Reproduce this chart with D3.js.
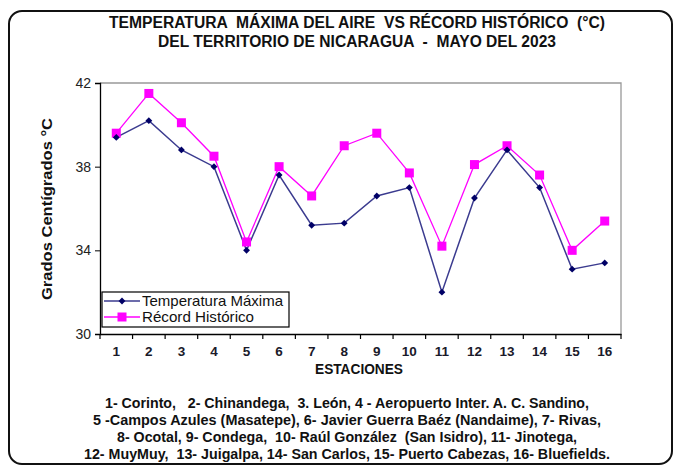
<!DOCTYPE html>
<html>
<head>
<meta charset="utf-8">
<script src="https://cdn.jsdelivr.net/npm/d3@7"></script>
<style>
  body { margin: 0; background: #fff; }
  svg { display: block; }
  .narrow { font-family: "Liberation Sans", Arial, sans-serif; font-weight: bold; }
  .arial { font-family: "Liberation Sans", Arial, sans-serif; }
</style>
</head>
<body>
<div id="chart"></div>
<script>
const stations = ["1", "2", "3", "4", "5", "6", "7", "8", "9", "10", "11", "12", "13", "14", "15", "16"];
const tempMax = [39.4, 40.2, 38.8, 38.0, 34.0, 37.6, 35.2, 35.3, 36.6, 37.0, 32.0, 36.5, 38.8, 37.0, 33.1, 33.4];
const record = [39.6, 41.5, 40.1, 38.5, 34.4, 38.0, 36.6, 39.0, 39.6, 37.7, 34.2, 38.1, 39.0, 37.6, 34.0, 35.4];
const yTicks = [30, 34, 38, 42];
const titleLines = [
  "TEMPERATURA  MÁXIMA DEL AIRE  VS RÉCORD HISTÓRICO  (°C)",
  "DEL TERRITORIO DE NICARAGUA  -  MAYO DEL 2023"
];
const noteLines = [
  "1- Corinto,   2- Chinandega,  3. León, 4 - Aeropuerto Inter. A. C. Sandino,",
  "5 -Campos Azules (Masatepe), 6- Javier Guerra Baéz (Nandaime), 7- Rivas,",
  "8- Ocotal, 9- Condega,  10- Raúl González  (San Isidro), 11- Jinotega,",
  "12- MuyMuy,  13- Juigalpa, 14- San Carlos, 15- Puerto Cabezas, 16- Bluefields."
];
const titleWidths = [496, 398];
const noteWidths = [484, 508, 460, 526];

const W = 674, H = 466;
const svg = d3.select("#chart").append("svg").attr("width", W).attr("height", H);

// outer frame
svg.append("rect")
    .attr("x", 9).attr("y", 11).attr("width", 663).attr("height", 453)
    .attr("rx", 13).attr("ry", 13)
    .attr("fill", "none").attr("stroke", "#111").attr("stroke-width", 2);

const x = d3.scaleBand().domain(stations).range([100, 621]);
const y = d3.scaleLinear().domain([30, 42]).range([334, 83]);

// plot box (grey top/right)
svg.append("path")
    .attr("d", `M100,83H621V334`)
    .attr("fill", "none").attr("stroke", "#999").attr("stroke-width", 1.3);

const yAxis = svg.append("g")
    .attr("transform", "translate(100,0)")
    .call(d3.axisLeft(y).tickValues(yTicks).tickSize(5).tickPadding(4));
yAxis.select(".domain").attr("stroke", "#000").attr("stroke-width", 1.3);
yAxis.selectAll("text").attr("class", "arial").attr("font-size", 14).attr("fill", "#222");

const xAxis = svg.append("g")
    .attr("transform", "translate(0,334)")
    .call(d3.axisBottom(x).tickSize(0).tickPadding(12));
xAxis.select(".domain").attr("stroke", "#000").attr("stroke-width", 1.3);
xAxis.selectAll("text").attr("class", "arial").attr("font-size", 13.5).attr("font-weight", "bold").attr("fill", "#1a1a2a");

// tick marks at category boundaries
svg.append("g").selectAll("line")
    .data(d3.range(stations.length + 1))
  .enter().append("line")
    .attr("x1", i => 100 + i * x.step()).attr("x2", i => 100 + i * x.step())
    .attr("y1", 334).attr("y2", 339)
    .attr("stroke", "#000").attr("stroke-width", 1.2);

const cx = d => x(d) + x.bandwidth() / 2;
const line = d3.line().x((d, i) => cx(stations[i])).y(d => y(d));

svg.append("path").datum(record)
    .attr("d", line).attr("fill", "none").attr("stroke", "#ff00ff").attr("stroke-width", 1.3);
svg.append("path").datum(tempMax)
    .attr("d", line).attr("fill", "none").attr("stroke", "#3b3b8f").attr("stroke-width", 1.5);

svg.append("g").selectAll("rect")
    .data(record)
  .enter().append("rect")
    .attr("x", (d, i) => cx(stations[i]) - 4.5)
    .attr("y", d => y(d) - 4.5)
    .attr("width", 9).attr("height", 9)
    .attr("fill", "#ff00ff");

const diamond = d3.symbol().type(d3.symbolDiamond2).size(30);
svg.append("g").selectAll("path")
    .data(tempMax)
  .enter().append("path")
    .attr("d", diamond)
    .attr("transform", (d, i) => `translate(${cx(stations[i])},${y(d)})`)
    .attr("fill", "#000066");

// legend
const lg = svg.append("g").attr("transform", "translate(102,292)");
lg.append("rect").attr("width", 187).attr("height", 35)
    .attr("fill", "#fff").attr("stroke", "#000").attr("stroke-width", 1.2);
lg.append("line").attr("x1", 2).attr("x2", 38).attr("y1", 9).attr("y2", 9)
    .attr("stroke", "#3b3b8f").attr("stroke-width", 1.5);
lg.append("path").attr("d", diamond).attr("transform", "translate(20,9)").attr("fill", "#000066");
lg.append("line").attr("x1", 2).attr("x2", 38).attr("y1", 25).attr("y2", 25)
    .attr("stroke", "#ff00ff").attr("stroke-width", 1.3);
lg.append("rect").attr("x", 15.5).attr("y", 20.5).attr("width", 9).attr("height", 9).attr("fill", "#ff00ff");
lg.append("text").attr("class", "arial").attr("x", 40).attr("y", 14)
    .attr("font-size", 14.5).attr("fill", "#111")
    .attr("textLength", 141).attr("lengthAdjust", "spacingAndGlyphs")
    .text("Temperatura Máxima");
lg.append("text").attr("class", "arial").attr("x", 40).attr("y", 30)
    .attr("font-size", 14.5).attr("fill", "#111")
    .attr("textLength", 112).attr("lengthAdjust", "spacingAndGlyphs")
    .text("Récord Histórico");

// y label
svg.append("text")
    .attr("class", "arial")
    .attr("transform", "translate(52,209) rotate(-90)")
    .attr("text-anchor", "middle")
    .attr("font-size", 15.5).attr("font-weight", "bold").attr("fill", "#111")
    .attr("textLength", 182).attr("lengthAdjust", "spacingAndGlyphs")
    .text("Grados Centígrados °C");

// title
svg.append("g").selectAll("text")
    .data(titleLines)
  .enter().append("text")
    .attr("class", "narrow")
    .attr("x", 357).attr("y", (d, i) => 28 + i * 19)
    .attr("text-anchor", "middle")
    .attr("font-size", 16).attr("fill", "#111")
    .attr("textLength", (d, i) => titleWidths[i]).attr("lengthAdjust", "spacingAndGlyphs")
    .style("white-space", "pre")
    .text(d => d);

svg.append("text")
    .attr("class", "narrow")
    .attr("x", 359).attr("y", 374)
    .attr("text-anchor", "middle")
    .attr("font-size", 14).attr("fill", "#111")
    .attr("textLength", 88).attr("lengthAdjust", "spacingAndGlyphs")
    .text("ESTACIONES");

svg.append("g").selectAll("text")
    .data(noteLines)
  .enter().append("text")
    .attr("class", "narrow")
    .attr("x", 347).attr("y", (d, i) => 408 + i * 17)
    .attr("text-anchor", "middle")
    .attr("font-size", 14).attr("fill", "#111")
    .attr("textLength", (d, i) => noteWidths[i]).attr("lengthAdjust", "spacingAndGlyphs")
    .style("white-space", "pre")
    .text(d => d);
</script>
</body>
</html>
